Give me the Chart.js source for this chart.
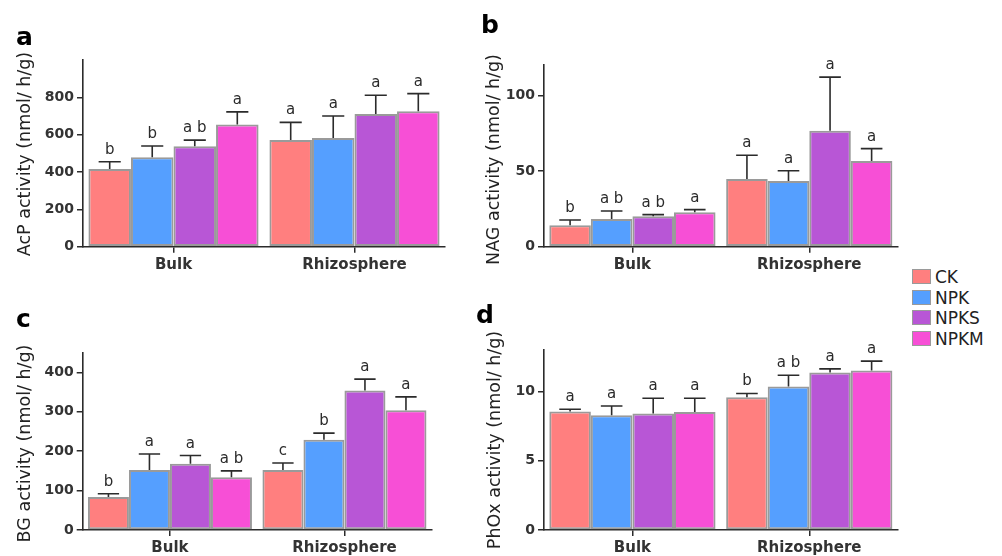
<!DOCTYPE html>
<html>
<head>
<meta charset="utf-8">
<script src="https://cdn.jsdelivr.net/npm/chart.js@4.4.1/dist/chart.umd.min.js"></script>
<style>
  body { margin: 0; background: #fff; width: 1002px; height: 556px; position: relative; overflow: hidden; font-family: "DejaVu Sans", sans-serif; }
  canvas { position: absolute; }
  .lg-box { position: absolute; width: 17px; height: 13px; border: 1.5px solid #9a9a9a; }
  .lg-txt { position: absolute; font: 17px "DejaVu Sans", sans-serif; color: #222; line-height: 20px; }
</style>
</head>
<body>
<canvas id="pa" width="460" height="280" style="left:0;top:0"></canvas>
<canvas id="pb" width="442" height="280" style="left:460px;top:0"></canvas>
<canvas id="pc" width="460" height="266" style="left:0;top:290px"></canvas>
<canvas id="pd" width="442" height="266" style="left:460px;top:290px"></canvas>
<div id="legend"></div>
<script>
/* enzyme activity, mean + upper SE, per treatment: [Bulk, Rhizosphere] */
const GROUPS     = ["Bulk", "Rhizosphere"];
const TREATMENTS = ["CK", "NPK", "NPKS", "NPKM"];
const COLORS     = ["#ff7f7f", "#559fff", "#b856d6", "#f74fd6"];

// a — AcP
const acpMean    = [[416, 571], [479, 582], [538, 711], [654, 725]];
const acpErr     = [[39, 95], [60, 118], [33, 100], [68, 95]];
const acpLetters = [["b", "a"], ["b", "a"], ["a b", "a"], ["a", "a"]];

// b — NAG
const nagMean    = [[14.1, 44.7], [18.3, 43.4], [20.1, 76.5], [22.7, 56.6]];
const nagErr     = [[3.5, 15.7], [5.3, 6.8], [1.1, 35.5], [1.8, 8.2]];
const nagLetters = [["b", "a"], ["a b", "a"], ["a b", "a"], ["a", "a"]];

// c — BG
const bgMean     = [[84, 152], [152, 229], [168, 354], [134, 304]];
const bgErr      = [[8, 18], [41, 17], [21, 29], [16, 34]];
const bgLetters  = [["b", "c"], ["a", "b"], ["a", "a"], ["a b", "a"]];

// d — PhOx
const phoxMean    = [[8.55, 9.59], [8.28, 10.36], [8.41, 11.38], [8.53, 11.52]];
const phoxErr     = [[0.17, 0.27], [0.68, 0.82], [1.10, 0.26], [0.98, 0.68]];
const phoxLetters = [["a", "b"], ["a", "a b"], ["a", "a"], ["a", "a"]];

const INK = "#2b2b2b";

/* ── error bars + significance letters ── */
const errorBars = {
  id: "errorBars",
  afterDatasetsDraw(chart) {
    const { ctx } = chart;
    const y = chart.scales.y;
    ctx.save();
    ctx.strokeStyle = INK;
    ctx.lineWidth = 1.6;
    ctx.fillStyle = INK;
    ctx.font = "15px 'DejaVu Sans', sans-serif";
    ctx.textAlign = "center";
    ctx.textBaseline = "alphabetic";
    chart.data.datasets.forEach((ds, di) => {
      chart.getDatasetMeta(di).data.forEach((bar, i) => {
        const top = y.getPixelForValue(ds.data[i] + ds.err[i]);
        const half = bar.width * 0.26;
        ctx.beginPath();
        ctx.moveTo(bar.x, bar.y);
        ctx.lineTo(bar.x, top);
        ctx.moveTo(bar.x - half, top);
        ctx.lineTo(bar.x + half, top);
        ctx.stroke();
        ctx.fillText(ds.letters[i], bar.x, top - 8);
      });
    });
    ctx.restore();
  },
};

/* ── rotated y title + panel tag ── */
const decor = {
  id: "decor",
  afterDraw(chart, args, opts) {
    const { ctx } = chart;
    ctx.save();
    ctx.fillStyle = "#000";
    ctx.font = "bold 25px 'DejaVu Sans', sans-serif";
    ctx.textAlign = "left";
    ctx.textBaseline = "alphabetic";
    ctx.fillText(opts.tag, opts.tagX, opts.tagY);
    ctx.translate(opts.titleX, opts.titleY);
    ctx.rotate(-Math.PI / 2);
    ctx.fillStyle = "#222";
    ctx.font = "17.5px 'DejaVu Sans', sans-serif";
    ctx.textAlign = "center";
    ctx.textBaseline = "middle";
    ctx.fillText(opts.title, 0, 0);
    ctx.restore();
  },
};

function makePanel(id, p) {
  const datasets = TREATMENTS.map((t, k) => ({
    label: t,
    data: p.mean[k],
    err: p.err[k],
    letters: p.letters[k],
    backgroundColor: COLORS[k],
    borderColor: "#9a9a9a",
    borderWidth: 2,
    borderSkipped: false,
    barPercentage: 1,
    categoryPercentage: 0.94,
  }));
  new Chart(document.getElementById(id), {
    type: "bar",
    data: { labels: GROUPS, datasets },
    options: {
      responsive: false,
      animation: false,
      layout: { padding: { top: p.padTop, right: p.padRight, left: 0, bottom: 0 } },
      plugins: {
        legend: { display: false },
        tooltip: { enabled: false },
        decor: { tag: p.tag, tagX: p.tagX, tagY: p.tagY, title: p.title, titleX: p.titleX, titleY: p.titleY },
      },
      scales: {
        x: {
          grid: { display: true, drawOnChartArea: false, offset: false, tickLength: 6, color: INK, lineWidth: 1.5 },
          border: { display: true, color: INK, width: 1.6 },
          ticks: { color: "#333", font: { family: "DejaVu Sans", size: 15, weight: "bold" }, padding: 3 },
          afterFit: s => { s.height = p.xHeight; },
        },
        y: {
          min: 0,
          max: p.max,
          grid: { display: true, drawOnChartArea: false, tickLength: 6, color: INK, lineWidth: 1.5 },
          border: { display: true, color: INK, width: 1.6 },
          ticks: { stepSize: p.step, color: "#333", font: { family: "DejaVu Sans", size: 14, weight: "bold" }, padding: 3 },
          afterBuildTicks: s => { s.ticks = s.ticks.filter(t => t.value <= p.lastTick); },
          afterFit: s => { s.width = p.yWidth; },
        },
      },
    },
    plugins: [errorBars, decor],
  });
}

makePanel("pa", {
  mean: acpMean, err: acpErr, letters: acpLetters,
  max: 1000, step: 200, lastTick: 800,
  padTop: 60, padRight: 15, yWidth: 83, xHeight: 33.3,
  tag: "a", tagX: 16, tagY: 45,
  title: "AcP activity (nmol/ h/g)", titleX: 25, titleY: 154,
});
makePanel("pb", {
  mean: nagMean, err: nagErr, letters: nagLetters,
  max: 120, step: 50, lastTick: 100,
  padTop: 65, padRight: 4.3, yWidth: 84, xHeight: 33.3,
  tag: "b", tagX: 21, tagY: 33,
  title: "NAG activity (nmol/ h/g)", titleX: 34, titleY: 159.5,
});
makePanel("pc", {
  mean: bgMean, err: bgErr, letters: bgLetters,
  max: 450, step: 100, lastTick: 400,
  padTop: 62.7, padRight: 28.3, yWidth: 82.7, xHeight: 26,
  tag: "c", tagX: 16, tagY: 37,
  title: "BG activity (nmol/ h/g)", titleX: 25, titleY: 153.5,
});
makePanel("pd", {
  mean: phoxMean, err: phoxErr, letters: phoxLetters,
  max: 13, step: 5, lastTick: 10,
  padTop: 60, padRight: 4.3, yWidth: 84, xHeight: 26,
  tag: "d", tagX: 16, tagY: 33,
  title: "PhOx activity (nmol/ h/g)", titleX: 35, titleY: 150,
});

/* ── shared legend ── */
const legend = document.getElementById("legend");
TREATMENTS.forEach((t, k) => {
  const top = 269 + k * 20.5;
  legend.insertAdjacentHTML("beforeend",
    `<div class="lg-box" style="left:912px;top:${top}px;background:${COLORS[k]}"></div>
     <div class="lg-txt" style="left:935px;top:${top - 2}px">${t}</div>`);
});
</script>
</body>
</html>
